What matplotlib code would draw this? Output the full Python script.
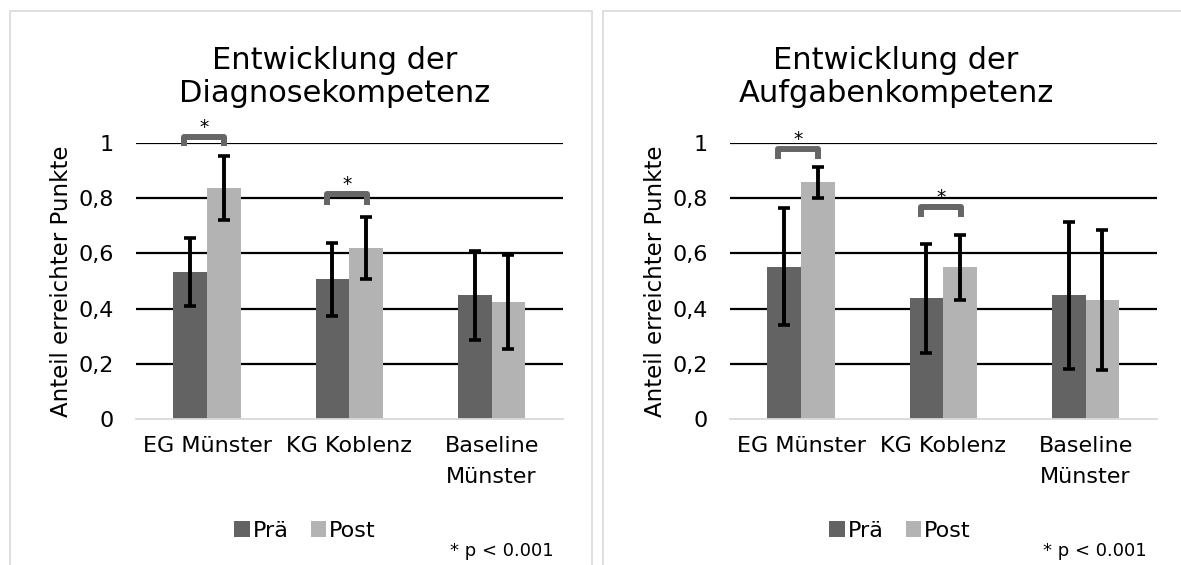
import matplotlib
matplotlib.use("Agg")
import matplotlib.pyplot as plt
from matplotlib.patches import Rectangle
import numpy as np

plt.rcParams['font.family'] = ['DejaVu Sans']

categories = ["EG Münster", "KG Koblenz", "Baseline\nMünster"]
series_names = ["Prä", "Post"]
yticks = [0, 0.2, 0.4, 0.6, 0.8, 1.0]
ytick_labels = ["0", "0,2", "0,4", "0,6", "0,8", "1"]

titles = ["Entwicklung der\nDiagnosekompetenz", "Entwicklung der\nAufgabenkompetenz"]
ylabel = "Anteil erreichter Punkte"
note = "* p < 0.001"

# Diagnosekompetenz
diag_pre = [0.533, 0.506, 0.448]
diag_post = [0.835, 0.620, 0.425]
diag_pre_err = [0.124, 0.132, 0.162]
diag_post_err = [0.116, 0.113, 0.170]

# Aufgabenkompetenz
aufg_pre = [0.552, 0.437, 0.448]
aufg_post = [0.857, 0.549, 0.430]
aufg_pre_err = [0.211, 0.198, 0.266]
aufg_post_err = [0.056, 0.119, 0.253]

# significance brackets: (category index, top level, leg end)
diag_sig = [(0, 1.020, 0.988), (1, 0.813, 0.773)]
aufg_sig = [(0, 0.977, 0.942), (1, 0.767, 0.730)]

C_PRE = "#636363"
C_POST = "#b3b3b3"
C_BRACKET = "#666666"

W, H = 1181, 565
fig = plt.figure(figsize=(W / 100, H / 100), dpi=100)
fig.patch.set_facecolor("white")

# panel borders
for (x0, y0, x1) in [(10, 11, 592), (603, 11, 1200)]:
    fig.add_artist(Rectangle((x0 / W, -0.1), (x1 - x0) / W, (H - y0) / H + 0.1,
                             transform=fig.transFigure, fill=False,
                             edgecolor="#d9d9d9", lw=1.2, clip_on=False))

panels = [
    dict(left=136, pre=diag_pre, post=diag_post, pe=diag_pre_err, qe=diag_post_err,
         sig=diag_sig, title_x=335, legend_x=305, note_x=450),
    dict(left=730, pre=aufg_pre, post=aufg_post, pe=aufg_pre_err, qe=aufg_post_err,
         sig=aufg_sig, title_x=896, legend_x=900, note_x=1043),
]

for idx, p in enumerate(panels):
    ax = fig.add_axes([p["left"] / W, (H - 419.3) / H, 426.7 / W, 276.6 / H])
    x = np.arange(len(categories))
    w = 0.237
    for t in yticks[1:]:
        ax.axhline(t, color="black", lw=1.6, zorder=0.5)
    b1 = ax.bar(x - w / 2, p["pre"], w, color=C_PRE, zorder=2, label=series_names[0])
    b2 = ax.bar(x + w / 2, p["post"], w, color=C_POST, zorder=2, label=series_names[1])
    ax.errorbar(x - w / 2, p["pre"], yerr=p["pe"], fmt="none", ecolor="black",
                elinewidth=2.8, capsize=4.5, capthick=2.6, zorder=3)
    ax.errorbar(x + w / 2, p["post"], yerr=p["qe"], fmt="none", ecolor="black",
                elinewidth=2.8, capsize=4.5, capthick=2.6, zorder=3)
    for (ci, ytop, yleg) in p["sig"]:
        x1, x2 = ci - 0.160, ci + 0.122
        ax.plot([x1, x1, x2, x2], [yleg, ytop, ytop, yleg], color=C_BRACKET,
                lw=4.3, solid_joinstyle="round", solid_capstyle="butt",
                clip_on=False, zorder=4)
        ax.text((x1 + x2) / 2, ytop + 0.016, "*", ha="center", va="baseline",
                fontsize=13.5, clip_on=False)
    ax.set_xlim(-0.5, 2.5)
    ax.set_ylim(0, 1)
    ax.set_yticks(yticks)
    ax.set_yticklabels(ytick_labels, fontsize=16)
    ax.set_xticks(x)
    ax.set_xticklabels(categories, fontsize=16, linespacing=1.7)
    ax.tick_params(axis="both", length=0)
    ax.tick_params(axis="y", pad=16)
    ax.tick_params(axis="x", pad=12)
    for s in ["top", "right", "left"]:
        ax.spines[s].set_visible(False)
    ax.spines["bottom"].set_color("#d9d9d9")
    ax.spines["bottom"].set_linewidth(1.3)
    ax.set_ylabel(ylabel, fontsize=16.5, labelpad=4)
    ax.set_facecolor("none")
    fig.text(p["title_x"] / W, (H - 77) / H, titles[idx], ha="center", va="center",
             fontsize=22, linespacing=1.2)
    ax.legend(handles=[b1, b2], loc="center", bbox_to_anchor=(p["legend_x"] / W, (H - 531) / H),
              bbox_transform=fig.transFigure, ncol=2, frameon=False, fontsize=16,
              handlelength=0.7, handleheight=0.7, handletextpad=0.12, columnspacing=1.0)
    fig.text(p["note_x"] / W, (H - 551) / H, note, ha="left", va="center", fontsize=13)

fig.savefig("out.png", dpi=100, facecolor="white")
